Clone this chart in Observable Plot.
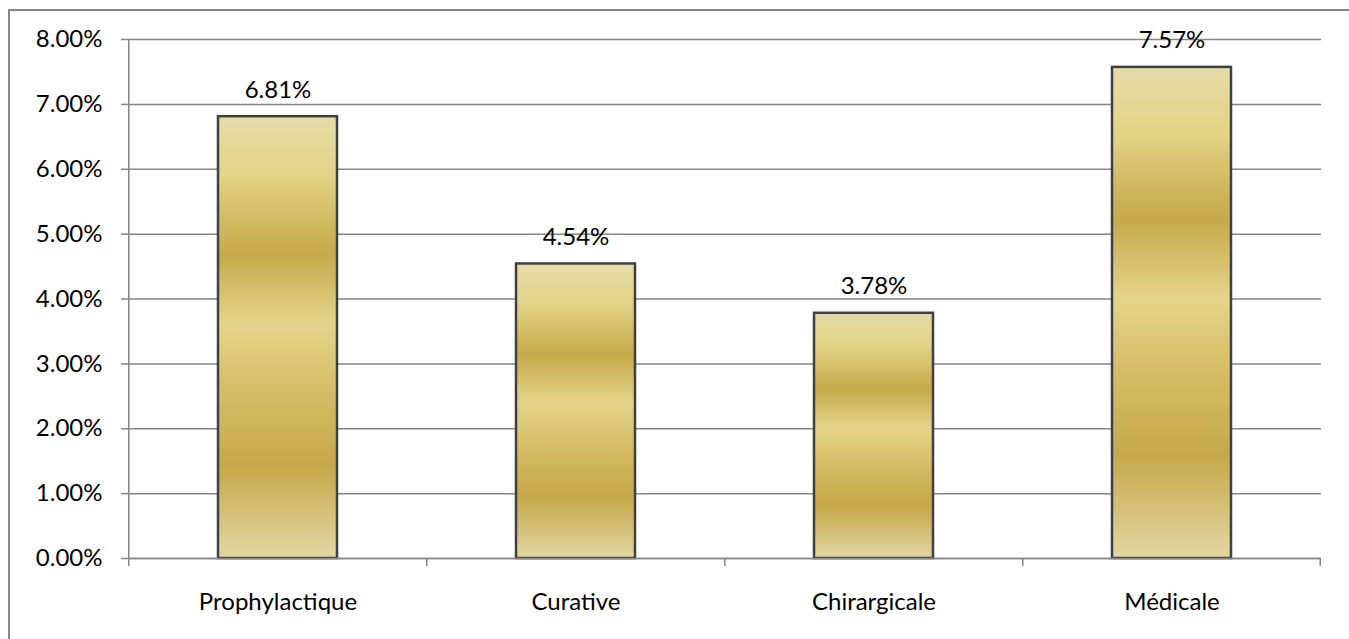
<!DOCTYPE html>
<html><head><meta charset="utf-8">
<script src="https://cdn.jsdelivr.net/npm/d3@7"></script>
<script src="https://cdn.jsdelivr.net/npm/@observablehq/plot@0.6"></script>
<style>
html,body{margin:0;padding:0;background:#fff;overflow:hidden;}
#wrap{position:relative;width:1349px;height:639px;}
#border{position:absolute;left:8px;top:9px;width:1400px;height:700px;border-left:2px solid #878787;border-top:2px solid #878787;pointer-events:none;}
#wrap svg text{font-family:Lato, "Open Sans", sans-serif !important;font-size:24px !important;fill:#000;}
</style></head>
<body><div id="wrap"><div id="border"></div></div>
<script>
const categories = ["Prophylactique", "Curative", "Chirargicale", "Médicale"];
const values = [0.0681, 0.0454, 0.0378, 0.0757];
const yTicks = [0, 0.01, 0.02, 0.03, 0.04, 0.05, 0.06, 0.07, 0.08];

const data = categories.map((c, i) => ({cat: c, v: values[i]}));
const fmt = d3.format(".2%");

const plot = Plot.plot({
  width: 1349, height: 639,
  marginLeft: 129, marginRight: 28, marginTop: 39, marginBottom: 81,
  style: {color: "#000", background: "transparent"},
  x: {domain: categories, paddingInner: 0.6, paddingOuter: 0.3, label: null},
  y: {domain: [0, 0.08], ticks: yTicks, tickFormat: fmt, label: null},
  marks: [
    Plot.gridY(yTicks, {stroke: "#868686", strokeOpacity: 1, strokeWidth: 1.5}),
    Plot.axisY({ticks: yTicks, tickFormat: fmt, tickSize: 8, tickPadding: 19, stroke: "#868686", strokeWidth: 1.5, label: null}),
    Plot.axisX({tickSize: 0, tickPadding: 34, label: null}),
    Plot.barY(data, {x: "cat", y: "v", fill: "url(#gold)", stroke: "#404040", strokeWidth: 2.5}),
    Plot.ruleY([0], {stroke: "#868686", strokeWidth: 1.5}),
    Plot.text(data, {x: "cat", y: "v", text: d => fmt(d.v), dy: -19, lineAnchor: "bottom"})
  ]
});

// gradient defs
const svg = d3.select(plot);
const defs = svg.insert("defs", ":first-child");
const g = defs.append("linearGradient").attr("id", "gold").attr("x1", 0).attr("y1", 0).attr("x2", 0).attr("y2", 1);
[[0, "#e6dcaa"], [0.13, "#e3d487"], [0.31, "#c6a94b"], [0.47, "#e4d48a"], [0.62, "#d5bd66"], [0.79, "#c5a84a"], [1, "#e2d6a2"]]
  .forEach(([o, c]) => g.append("stop").attr("offset", o).attr("stop-color", c));

// vertical axis line and category boundary ticks
const xs = plot.scale("x"), ys = plot.scale("y");
const step = xs.bandwidth / (1 - 0.6);
const y0 = ys.apply(0);
const bounds = categories.map(c => xs.apply(c) - step * 0.3);
bounds.push(bounds[bounds.length - 1] + step);
svg.append("g").selectAll("line").data(bounds).join("line")
  .attr("x1", d => d).attr("x2", d => d).attr("y1", y0).attr("y2", y0 + 8)
  .attr("stroke", "#868686").attr("stroke-width", 1.5);
svg.append("line").attr("x1", bounds[0]).attr("x2", bounds[0]).attr("y1", ys.apply(0.08)).attr("y2", y0)
  .attr("stroke", "#868686").attr("stroke-width", 1.5);

document.getElementById("wrap").appendChild(plot);
plot.style.position = "absolute"; plot.style.left = "0"; plot.style.top = "0";
</script></body></html>
